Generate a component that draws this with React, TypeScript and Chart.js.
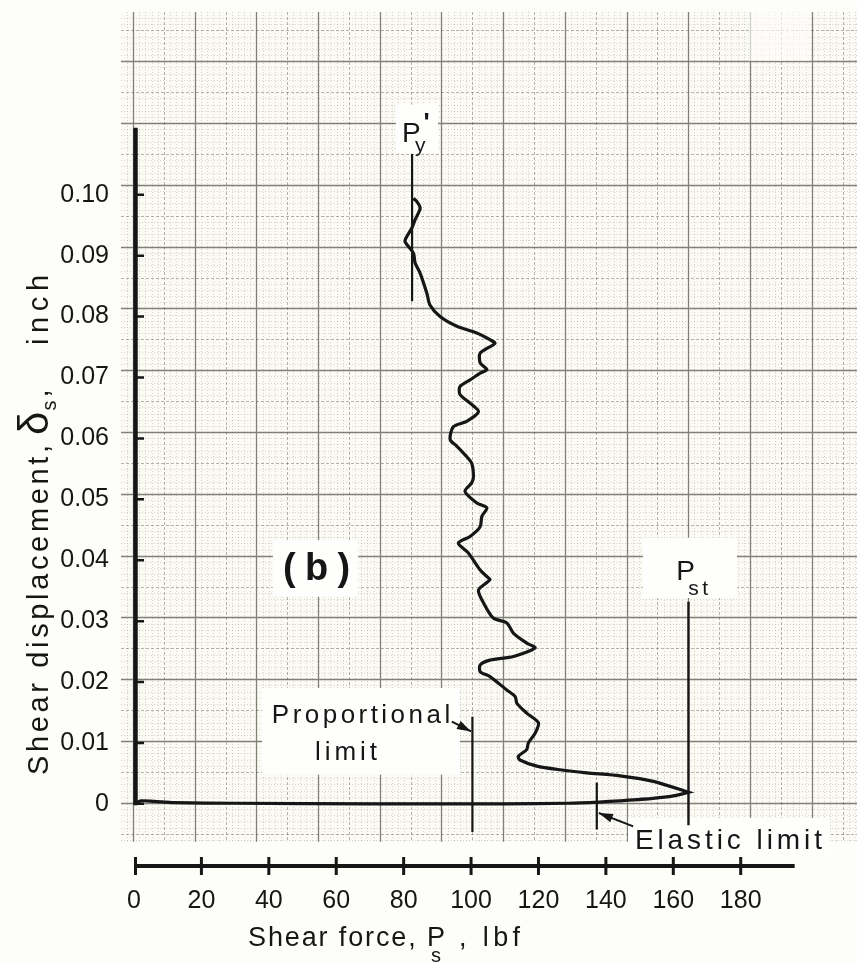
import React, { useEffect, useRef } from "react";
import { Chart, registerables } from "chart.js";

Chart.register(...registerables);

const W = 857;
const H = 963;
const FONT = '"Liberation Sans", Arial, "DejaVu Sans", sans-serif';
const INK = "#161616";
const PAGE_BG = "#fdfdfa";
const PAPER_BG = "#fbfaf4";
const BOX_BG = "#fefefc";

// ---------------- data (shear force lbf, shear displacement inch) ----------------
const loadForce = [0, 2, 6, 12, 30, 70, 110, 129, 138, 144, 154, 160, 164.5];
const loadDisp = [0, 0.0005, 0.0004, 0.0002, 0.0001, 0, 0, 0.0001, 0.0003, 0.0005, 0.0009, 0.0013, 0.0019];

const unloadForce = [
  164.5, 154.1, 144.2, 134.3, 126.4, 119.5, 114.5, 114.0, 116.5, 117.0, 119.0, 120.0, 116.5, 113.6, 113.1,
  110.6, 105.6, 102.7, 102.7, 105.6, 112.6, 119.0, 116.5, 112.6, 110.6, 106.6, 103.7, 102.2, 105.6, 104.7,
  102.7, 99.2, 96.2, 99.7, 102.7, 103.2, 104.7, 101.7, 98.2, 100.2, 100.7, 100.2, 98.7, 95.8, 93.8, 94.7,
  98.7, 102.2, 99.7, 96.7, 96.7, 99.7, 102.7, 104.7, 102.7, 102.7, 107.1, 105.6, 101.7, 95.8, 90.8, 87.8,
  86.9, 84.9, 83.4, 82.9, 80.4, 80.9, 82.4, 83.4, 84.9, 83.9, 82.9,
];
const unloadDisp = [
  0.0019, 0.0037, 0.0046, 0.0051, 0.0056, 0.0062, 0.0072, 0.0078, 0.0089, 0.01, 0.0116, 0.0133, 0.0149, 0.0165,
  0.0176, 0.0187, 0.0209, 0.0217, 0.0228, 0.0236, 0.0242, 0.0256, 0.0264, 0.028, 0.0297, 0.0305, 0.033, 0.0351,
  0.0368, 0.0373, 0.0384, 0.0412, 0.0428, 0.0439, 0.0455, 0.0472, 0.0486, 0.0494, 0.0513, 0.0527, 0.0537,
  0.0559, 0.057, 0.0587, 0.0598, 0.0619, 0.0628, 0.0644, 0.0658, 0.0672, 0.0685, 0.0696, 0.0707, 0.0713,
  0.0724, 0.074, 0.0756, 0.0762, 0.0773, 0.0784, 0.08, 0.0819, 0.0838, 0.0871, 0.0888, 0.0904, 0.0923,
  0.0931, 0.0945, 0.0959, 0.0978, 0.0989, 0.0994,
];

const xTickValues = [0, 20, 40, 60, 80, 100, 120, 140, 160, 180];
const xTickLabels = ["0", "20", "40", "60", "80", "100", "120", "140", "160", "180"];
const yTickValues = [0, 0.01, 0.02, 0.03, 0.04, 0.05, 0.06, 0.07, 0.08, 0.09, 0.1];
const yTickLabels = ["0", "0.01", "0.02", "0.03", "0.04", "0.05", "0.06", "0.07", "0.08", "0.09", "0.10"];

// marker lines
const pyLineForce = [82.5, 82.5];
const pyLineDisp = [0.1067, 0.0825];
const propLineForce = [100.4, 100.4];
const propLineDisp = [0.0143, -0.0046];
const elasticLineForce = [137.3, 137.3];
const elasticLineDisp = [0.0035, -0.0042];
const pstLineForce = [164.5, 164.5];
const pstLineDisp = [0.0332, -0.0035];
// arrows (tail -> head)
const propArrowForce = [94.3, 100.0];
const propArrowDisp = [0.0135, 0.0119];
const elasticArrowForce = [148.1, 137.9];
const elasticArrowDisp = [-0.0037, -0.0015];

// axis extents
const xAxisEnd = 196;
const yAxisTop = 0.111;
const X_MIN = 0;
const X_MAX = 214.5;
const Y_MIN = -0.0102;
const Y_MAX = 0.13;

// graph paper (in data units)
const paperXRange = [-3.86, 214.5];
const paperYRange = [-0.0062, 0.13];
const paperX0 = -0.297;
const paperDX = 1.8305;
const paperY0 = 0.00016;
const paperDY = 0.0010146;

// white label patches [f1, f2, d1, d2, opacity]
const patchBoxes = [
  [41.2, 66.5, 0.0433, 0.034, 1],
  [38.0, 96.7, 0.019, 0.0048, 1],
  [151.0, 178.9, 0.0437, 0.0338, 1],
  [146.6, 206.5, -0.0023, -0.0079, 1],
  [77.7, 90.2, 0.1148, 0.1068, 1],
  [182.5, 200.5, 0.13, 0.122, 0.65],
];

function seg(fx: number[], dy: number[]) {
  return fx.map((f, i) => ({ x: f, y: dy[i] }));
}

function charW(ctx: CanvasRenderingContext2D, text: string) {
  let w = 0;
  for (const ch of Array.from(text)) w += ctx.measureText(ch).width;
  return w;
}

function drawChars(ctx: CanvasRenderingContext2D, text: string, x: number, y: number, spacing: number) {
  let cx = x;
  for (const ch of Array.from(text)) {
    ctx.fillText(ch, cx, y);
    cx += ctx.measureText(ch).width + spacing;
  }
  return cx - spacing;
}

function drawFitted(
  ctx: CanvasRenderingContext2D,
  text: string,
  font: string,
  x0: number,
  x1: number,
  y: number
) {
  ctx.font = font;
  const n = Array.from(text).length;
  const nat = charW(ctx, text);
  const sp = n > 1 ? (x1 - x0 - nat) / (n - 1) : 0;
  drawChars(ctx, text, x0, y, sp);
  return sp;
}

const paperPlugin = {
  id: "paper",
  beforeDraw(chart: any) {
    const { ctx } = chart;
    const xs = chart.scales.x;
    const ys = chart.scales.y;
    const L = xs.getPixelForValue(paperXRange[0]);
    const R = xs.getPixelForValue(paperXRange[1]);
    const T = ys.getPixelForValue(paperYRange[1]);
    const B = ys.getPixelForValue(paperYRange[0]);
    ctx.save();
    ctx.fillStyle = PAGE_BG;
    ctx.fillRect(0, 0, W, H);
    ctx.fillStyle = PAPER_BG;
    ctx.fillRect(L, T, R - L, B - T);
    const levels = [
      { test: (k: number) => k % 5 !== 0, color: "rgba(115,115,100,0.28)", width: 1, dash: [1, 2] },
      { test: (k: number) => k % 5 === 0 && k % 10 !== 0, color: "rgba(80,80,68,0.42)", width: 1, dash: [3, 2] },
      { test: (k: number) => k % 10 === 0, color: "rgba(55,55,45,0.62)", width: 1.3, dash: [] as number[] },
    ];
    const kx0 = Math.ceil((paperXRange[0] - paperX0) / paperDX);
    const kx1 = Math.floor((paperXRange[1] - paperX0) / paperDX);
    const ky0 = Math.ceil((paperYRange[0] - paperY0) / paperDY);
    const ky1 = Math.floor((paperYRange[1] - paperY0) / paperDY);
    for (const lv of levels) {
      ctx.strokeStyle = lv.color;
      ctx.lineWidth = lv.width;
      ctx.setLineDash(lv.dash);
      ctx.beginPath();
      for (let k = kx0; k <= kx1; k++) {
        if (!lv.test(k)) continue;
        const x = Math.round(xs.getPixelForValue(paperX0 + k * paperDX)) + 0.5;
        ctx.moveTo(x, T);
        ctx.lineTo(x, B);
      }
      for (let k = ky0; k <= ky1; k++) {
        if (!lv.test(k)) continue;
        const y = Math.round(ys.getPixelForValue(paperY0 + k * paperDY)) + 0.5;
        ctx.moveTo(L, y);
        ctx.lineTo(R, y);
      }
      ctx.stroke();
    }
    ctx.setLineDash([]);
    ctx.fillStyle = BOX_BG;
    for (const b of patchBoxes) {
      const x1 = xs.getPixelForValue(b[0]);
      const x2 = xs.getPixelForValue(b[1]);
      const y1 = ys.getPixelForValue(b[2]);
      const y2 = ys.getPixelForValue(b[3]);
      ctx.globalAlpha = b[4];
      ctx.fillRect(x1, y1, x2 - x1, y2 - y1);
    }
    ctx.globalAlpha = 1;
    ctx.restore();
  },
};

const inkPlugin = {
  id: "ink",
  afterDatasetsDraw(chart: any) {
    const { ctx } = chart;
    const xs = chart.scales.x;
    const ys = chart.scales.y;
    const px = (f: number) => xs.getPixelForValue(f);
    const py = (d: number) => ys.getPixelForValue(d);
    ctx.save();
    ctx.strokeStyle = INK;
    ctx.fillStyle = INK;
    ctx.lineCap = "butt";

    // y axis line + ticks
    const ax = px(0) + 1.5;
    ctx.lineWidth = 4.5;
    ctx.beginPath();
    ctx.moveTo(ax, py(0) + 1.5);
    ctx.lineTo(ax, py(yAxisTop));
    ctx.stroke();
    ctx.lineWidth = 2.5;
    ctx.beginPath();
    for (const v of yTickValues) {
      const y = py(v);
      ctx.moveTo(px(0), y);
      ctx.lineTo(px(0) + 10, y);
    }
    ctx.stroke();

    // x axis line + ticks (drawn at the bottom of the scale range)
    const by = ys.getPixelForValue(Y_MIN);
    ctx.lineWidth = 4;
    ctx.beginPath();
    ctx.moveTo(px(0), by);
    ctx.lineTo(px(xAxisEnd), by);
    ctx.stroke();
    ctx.lineWidth = 3;
    ctx.beginPath();
    for (const v of xTickValues) {
      const x = px(v) + (v === 0 ? 1.5 : 0);
      ctx.moveTo(x, by - 9);
      ctx.lineTo(x, by + 9);
    }
    ctx.stroke();

    // arrowheads
    const heads = [
      [propArrowForce, propArrowDisp],
      [elasticArrowForce, elasticArrowDisp],
    ];
    for (const [fa, da] of heads) {
      const x0 = px(fa[0]);
      const y0 = py(da[0]);
      const x1 = px(fa[1]);
      const y1 = py(da[1]);
      const ang = Math.atan2(y1 - y0, x1 - x0);
      const len = 14;
      const hw = 4.5;
      ctx.beginPath();
      ctx.moveTo(x1, y1);
      ctx.lineTo(x1 - len * Math.cos(ang) + hw * Math.sin(ang), y1 - len * Math.sin(ang) - hw * Math.cos(ang));
      ctx.lineTo(x1 - len * Math.cos(ang) - hw * Math.sin(ang), y1 - len * Math.sin(ang) + hw * Math.cos(ang));
      ctx.closePath();
      ctx.fill();
    }

    // in-plot labels
    ctx.textBaseline = "middle";
    drawFitted(ctx, "(b)", `bold 38px ${FONT}`, px(44.2), px(64.1), py(0.0384));
    ctx.textBaseline = "alphabetic";
    drawFitted(ctx, "Proportional", `26px ${FONT}`, px(40.9), px(93.8), py(0.0133));
    drawFitted(ctx, "limit", `26px ${FONT}`, px(53.7), px(72.1), py(0.0072));
    drawFitted(ctx, "Elastic limit", `28px ${FONT}`, px(148.6), px(204.1), py(-0.0074));
    // P_st
    drawFitted(ctx, "P", `28px ${FONT}`, px(160.9), px(165.3), py(0.0368));
    drawFitted(ctx, "st", `21px ${FONT}`, px(164.4), px(170.3), py(0.0343));
    // P_y'
    drawFitted(ctx, "P", `28px ${FONT}`, px(79.5), px(84.0), py(0.1087));
    drawFitted(ctx, "y", `21px ${FONT}`, px(83.4), px(87.2), py(0.107));
    drawFitted(ctx, "'", `bold 26px ${FONT}`, px(85.9), px(87.0), py(0.1104));

    // x axis title
    const ca = chart.chartArea;
    const tb = ca.bottom + 80;
    const sp = drawFitted(ctx, "Shear force, P", `27px ${FONT}`, 248, 445, tb);
    ctx.font = `20px ${FONT}`;
    ctx.fillText("s", 431, tb + 16);
    ctx.font = `27px ${FONT}`;
    drawChars(ctx, ", lbf", 459, tb, sp + 2.5);

    // y axis title (rotated)
    ctx.save();
    ctx.translate(48, 775);
    ctx.rotate(-Math.PI / 2);
    const sp2 = drawFitted(ctx, "Shear displacement,", `29px ${FONT}`, 0, 330, 0);
    ctx.font = `42px ${FONT}`;
    ctx.fillText("\u03b4", 340, 0);
    const dw = ctx.measureText("\u03b4").width;
    ctx.font = `20px ${FONT}`;
    ctx.fillText("s", 340 + dw + 1, 8);
    const sw = ctx.measureText("s").width;
    ctx.font = `29px ${FONT}`;
    ctx.fillText(",", 340 + dw + sw + 4, 0);
    ctx.font = `29px ${FONT}`;
    drawChars(ctx, "inch", 430, 0, sp2 + 2);
    ctx.restore();

    ctx.restore();
  },
};

export default function App() {
  const ref = useRef<HTMLCanvasElement>(null);
  useEffect(() => {
    const canvas = ref.current;
    if (!canvas) return;
    const curve = [...seg(loadForce, loadDisp), ...seg(unloadForce, unloadDisp)];
    const lineDs = (data: { x: number; y: number }[], width: number, tension = 0) => ({
      data,
      showLine: true,
      borderColor: INK,
      backgroundColor: INK,
      borderWidth: width,
      pointRadius: 0,
      tension,
      fill: false,
      clip: false as const,
    });
    const chart = new Chart(canvas, {
      type: "scatter",
      data: {
        datasets: [
          lineDs(seg(pyLineForce, pyLineDisp), 2.2),
          lineDs(seg(propLineForce, propLineDisp), 2.2),
          lineDs(seg(elasticLineForce, elasticLineDisp), 2.2),
          lineDs(seg(pstLineForce, pstLineDisp), 2.4),
          lineDs(seg(propArrowForce, propArrowDisp), 2),
          lineDs(seg(elasticArrowForce, elasticArrowDisp), 2),
          lineDs(curve, 3.2, 0.25),
        ] as any,
      },
      options: {
        responsive: false,
        maintainAspectRatio: false,
        animation: false,
        devicePixelRatio: 1,
        events: [],
        layout: { padding: { top: 12, left: 0, right: 0, bottom: 0 } },
        plugins: { legend: { display: false }, tooltip: { enabled: false } },
        scales: {
          x: {
            type: "linear",
            position: "bottom",
            min: X_MIN,
            max: X_MAX,
            grid: { display: false },
            border: { display: false },
            ticks: {
              color: INK,
              font: { family: FONT, size: 25 },
              padding: 12,
              maxRotation: 0,
              autoSkip: false,
              callback: (_v: any, i: number) => xTickLabels[i] ?? "",
            },
            afterBuildTicks: (s: any) => {
              s.ticks = xTickValues.map((v) => ({ value: v }));
            },
            afterFit: (s: any) => {
              s.height = 97;
              s.paddingLeft = 0;
              s.paddingRight = 0;
              s.paddingTop = 0;
              s.paddingBottom = 0;
            },
          },
          y: {
            type: "linear",
            position: "left",
            min: Y_MIN,
            max: Y_MAX,
            grid: { display: false },
            border: { display: false },
            ticks: {
              color: INK,
              font: { family: FONT, size: 25 },
              padding: 17,
              autoSkip: false,
              callback: (_v: any, i: number) => yTickLabels[i] ?? "",
            },
            afterBuildTicks: (s: any) => {
              s.ticks = yTickValues.map((v) => ({ value: v }));
            },
            afterFit: (s: any) => {
              s.width = 134;
              s.paddingTop = 0;
              s.paddingBottom = 0;
              s.paddingLeft = 0;
              s.paddingRight = 0;
            },
          },
        },
      } as any,
      plugins: [paperPlugin, inkPlugin],
    });
    return () => chart.destroy();
  }, []);
  return (
    <div style={{ position: "fixed", left: 0, top: 0, width: W, height: H, background: PAGE_BG }}>
      <canvas ref={ref} width={W} height={H} style={{ display: "block", width: W, height: H }} />
    </div>
  );
}
